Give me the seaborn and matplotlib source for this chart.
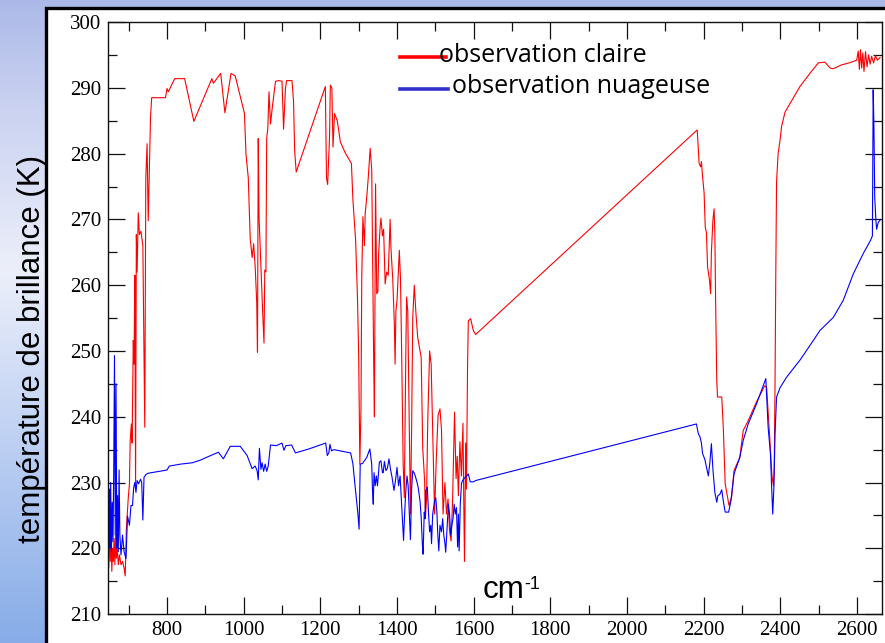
import matplotlib
matplotlib.use("Agg")
import numpy as np
import pandas as pd
import matplotlib.pyplot as plt
import matplotlib.patches as patches
from matplotlib.ticker import MultipleLocator
import seaborn as sns

# clear-sky observation (wavenumber cm-1, brightness temperature K)
clear_wn = [646, 648, 650, 652, 654, 656, 658, 660, 662, 664, 666, 668, 670, 673, 676, 680,
            684, 688, 691, 694, 699, 702, 704, 707, 709, 712, 714, 716, 718, 720, 722, 725,
            728, 732, 737, 739.5, 742, 744.7, 748, 751, 753.5, 757, 760, 796, 800, 803.5,
            820, 846, 870, 917, 921, 940, 951, 967, 978, 1002, 1006, 1012, 1017, 1022, 1026,
            1030, 1034, 1036, 1038, 1040, 1045, 1050, 1053, 1055, 1058, 1060, 1063, 1066,
            1070, 1075, 1083, 1092, 1100, 1104, 1109, 1112, 1126, 1130, 1133, 1137, 1213,
            1216, 1219, 1224, 1226, 1230, 1233, 1237, 1244, 1248, 1252, 1265, 1281, 1285,
            1292, 1297, 1300, 1303, 1306, 1308, 1311, 1315, 1317, 1321, 1325, 1330, 1334,
            1336, 1339, 1341, 1344, 1347, 1350, 1352, 1356, 1358, 1362, 1365, 1369, 1373,
            1377, 1382, 1384, 1389, 1393, 1395, 1397, 1400, 1406, 1409, 1412, 1416, 1419,
            1423, 1425, 1428, 1432, 1435, 1438, 1441, 1445, 1449, 1454, 1463, 1467, 1472,
            1474, 1477, 1480, 1485, 1489, 1493, 1498, 1502, 1507, 1512, 1516, 1520, 1525,
            1529, 1533, 1537, 1541, 1545, 1550, 1554, 1557, 1560, 1564, 1568, 1572, 1574,
            1576, 1579, 1581, 1584, 1586, 1592, 1599, 1605, 2183, 2188, 2192, 2194, 2197,
            2201, 2204, 2207, 2210, 2215, 2218, 2220, 2224, 2227, 2229, 2231, 2234, 2236,
            2247, 2251, 2256, 2266, 2273, 2279, 2294, 2303, 2316, 2338, 2359, 2364, 2372,
            2378, 2382, 2384, 2386, 2388, 2390, 2394, 2399, 2403, 2412, 2425, 2451, 2477,
            2499, 2516, 2530, 2538, 2560, 2580, 2599, 2603, 2606, 2609, 2612, 2615, 2618,
            2622, 2626, 2630, 2634, 2638, 2643, 2648, 2653, 2660]
clear_tb = [231.0, 217.0, 224.0, 218.0, 222.0, 216.5, 220.0, 218.0, 221.5, 217.5, 222.0, 218.5,
            220.0, 217.5, 219.0, 217.5, 218.0, 217.0, 215.8, 223.0, 227.7, 229.8, 236.4, 238.9,
            236.0, 251.6, 248.0, 261.5, 229.3, 267.7, 262.0, 271.0, 267.7, 268.2, 266.0, 252.5,
            238.4, 276.3, 281.5, 269.8, 276.3, 285.6, 288.5, 288.5, 289.9, 289.4, 291.4, 291.4,
            284.9, 291.4, 290.7, 292.2, 286.2, 292.2, 291.8, 286.1, 279.9, 276.3, 267.1, 264.2,
            266.3, 262.8, 257.4, 249.8, 282.3, 270.4, 262.8, 255.2, 251.2, 262.3, 262.0, 282.3,
            283.9, 289.4, 284.5, 287.2, 291.0, 291.1, 291.0, 283.7, 289.9, 291.1, 291.1, 288.0,
            280.4, 277.2, 290.2, 276.3, 275.3, 282.6, 290.4, 290.0, 281.0, 286.1, 285.0, 283.5,
            281.8, 280.1, 278.5, 272.9, 266.8, 257.7, 249.1, 232.8, 241.3, 261.2, 270.4, 266.0,
            270.9, 273.4, 276.4, 280.8, 277.5, 265.8, 249.1, 240.0, 275.4, 258.7, 259.0, 264.8,
            268.9, 270.2, 267.5, 268.5, 260.2, 262.0, 261.5, 270.0, 265.8, 260.7, 254.1, 248.0,
            256.0, 257.7, 265.3, 261.0, 250.0, 232.8, 227.7, 250.0, 258.2, 256.0, 238.0, 225.2,
            238.0, 255.1, 260.0, 256.0, 252.0, 249.0, 235.3, 230.2, 224.6, 227.5, 239.0, 250.0,
            248.0, 238.0, 225.2, 233.0, 240.2, 241.2, 238.0, 225.2, 230.0, 225.2, 227.5, 222.6,
            221.1, 227.5, 240.7, 230.6, 234.0, 228.0, 236.2, 231.0, 239.0, 227.5, 218.0, 236.0,
            229.0, 248.0, 254.6, 254.9, 253.1, 252.5, 283.6, 278.5, 278.0, 278.8, 276.5, 274.0,
            268.8, 268.0, 262.8, 260.8, 258.7, 265.0, 269.9, 271.6, 268.0, 257.7, 245.5, 243.0,
            243.0, 238.4, 229.8, 226.5, 227.9, 231.8, 233.8, 237.9, 239.4, 242.3, 244.7, 244.5,
            237.0, 231.0, 229.5, 232.5, 245.0, 262.0, 275.7, 280.0, 282.0, 284.1, 286.3, 287.6,
            290.2, 292.2, 293.8, 293.9, 293.0, 292.9, 293.5, 293.8, 294.2, 295.6, 292.8, 295.8,
            293.0, 295.3, 292.5, 295.5, 293.2, 295.0, 293.6, 294.8, 293.8, 294.9, 294.2, 294.6]

# cloudy observation
cloudy_wn = [646, 648, 650, 651, 653, 655, 657, 659, 661, 663, 665, 667, 669, 671, 673, 675,
             677, 680, 684, 688, 693, 697, 702, 706, 710, 713, 716, 719, 722, 726, 731, 734,
             737, 740, 745, 750, 770, 800, 806, 836, 866, 887, 910, 934, 947, 965, 991, 1009,
             1022, 1030, 1035, 1038, 1041, 1045, 1048, 1052, 1056, 1060, 1064, 1070, 1085,
             1100, 1105, 1110, 1125, 1135, 1170, 1214, 1218, 1222, 1225, 1229, 1235, 1279,
             1285, 1290, 1298, 1301, 1304, 1310, 1321, 1329, 1334, 1336, 1338, 1340, 1343,
             1346, 1349, 1354, 1358, 1362, 1364, 1367, 1371, 1375, 1379, 1383, 1387, 1392,
             1396, 1400, 1404, 1408, 1411, 1414, 1417, 1420, 1423, 1426, 1429, 1432, 1435,
             1438, 1441, 1446, 1451, 1455, 1460, 1463, 1466, 1468, 1471, 1473, 1475, 1479,
             1482, 1485, 1488, 1490, 1493, 1498, 1501, 1504, 1506, 1509, 1512, 1516, 1519,
             1522, 1525, 1527, 1530, 1534, 1537, 1540, 1543, 1546, 1549, 1552, 1555, 1558,
             1560, 1562, 1565, 1568, 1571, 1578, 1582, 1586, 1591, 1599, 1605, 2181, 2186,
             2190, 2194, 2197, 2203, 2212, 2216, 2220, 2224, 2229, 2234, 2237, 2242, 2247,
             2251, 2256, 2265, 2271, 2279, 2294, 2303, 2316, 2338, 2362, 2368, 2374, 2377,
             2380, 2383, 2386, 2390, 2399, 2416, 2451, 2486, 2503, 2538, 2564, 2590, 2616,
             2635, 2640, 2642, 2644, 2646, 2649, 2651, 2655, 2660]
cloudy_tb = [231.0, 222.0, 229.0, 220.0, 230.0, 219.5, 227.0, 221.0, 231.5, 249.3, 222.0, 245.0,
             220.0, 228.0, 219.5, 231.9, 222.0, 219.0, 222.0, 219.5, 218.4, 224.9, 223.5, 226.5,
             226.5, 229.2, 230.0, 228.5, 230.3, 229.8, 230.5, 230.0, 224.3, 230.8, 231.2, 231.4,
             231.6, 231.9, 232.5, 232.8, 233.0, 233.4, 234.0, 234.6, 233.6, 235.5, 235.5, 234.1,
             232.1, 232.5, 231.8, 230.4, 235.2, 232.0, 233.0, 231.7, 232.8, 231.7, 232.5, 235.7,
             235.6, 236.0, 234.9, 235.6, 235.7, 234.5, 235.1, 236.0, 234.1, 234.5, 235.8, 234.8,
             235.0, 234.5, 232.8, 229.8, 225.2, 222.9, 232.8, 232.9, 233.8, 235.1, 232.8, 228.8,
             226.7, 231.5, 229.5, 231.0, 229.5, 233.1, 233.3, 231.5, 231.5, 233.2, 231.8, 232.2,
             233.6, 232.0, 230.8, 228.8, 230.3, 232.3, 229.5, 231.0, 227.7, 224.7, 221.2, 225.5,
             228.8, 231.0, 229.5, 225.5, 221.3, 229.0, 231.8, 231.3, 230.3, 229.3, 227.2, 224.7,
             220.7, 219.1, 225.5, 224.5, 228.8, 229.3, 225.5, 222.5, 223.5, 220.7, 225.2, 227.2,
             227.7, 225.5, 222.5, 219.6, 223.5, 222.5, 224.5, 222.0, 220.7, 219.4, 222.5, 226.7,
             225.2, 222.0, 223.5, 224.5, 226.7, 225.2, 226.2, 220.2, 225.2, 219.6, 226.7, 229.8,
             230.3, 230.8, 231.0, 231.3, 230.1, 230.1, 230.3, 238.9, 237.4, 237.0, 236.0, 234.4,
             233.5, 231.0, 233.0, 235.9, 232.0, 228.5, 227.0, 228.0, 228.2, 228.9, 227.2, 225.5,
             225.5, 227.2, 231.3, 233.8, 236.4, 238.9, 242.0, 245.8, 238.4, 234.4, 229.5, 225.2,
             229.3, 237.4, 243.0, 244.4, 246.0, 248.6, 251.6, 253.1, 255.1, 257.7, 261.7, 264.8,
             266.8, 267.5, 289.7, 284.1, 273.4, 270.0, 268.5, 269.5, 269.9]

series_labels = ["observation claire", "observation nuageuse"]
series_colors = ["#ff0000", "#0000ff"]

df = pd.concat([
    pd.DataFrame({"wn": clear_wn, "tb": clear_tb, "obs": series_labels[0]}),
    pd.DataFrame({"wn": cloudy_wn, "tb": cloudy_tb, "obs": series_labels[1]}),
])

fig = plt.figure(figsize=(8.85, 6.43), dpi=100)

# slide background with white framed panel
bg = fig.add_axes([0, 0, 1, 1], zorder=-2)
bg.axis('off')
stops = np.array([[0.00, 172, 185, 232], [0.15, 200, 208, 240], [0.42, 236, 239, 250],
                  [0.60, 205, 218, 245], [1.00, 135, 172, 232]])
yy = np.linspace(0, 1, 256)
grad = np.stack([np.interp(yy, stops[:, 0], stops[:, c]) for c in (1, 2, 3)], axis=-1) / 255
bg.imshow(grad[:, None, :].repeat(4, axis=1), extent=[0, 1, 0, 1], aspect='auto', origin='upper')
bg.set_xlim(0, 1)
bg.set_ylim(0, 1)
bg.add_patch(patches.Rectangle((46 / 885, -0.05), 1.0, 1.05 - 8 / 643, transform=bg.transAxes,
                               facecolor='white', edgecolor='black', lw=2.4, clip_on=False))

ax = fig.add_axes([0.122, 0.045, 0.8746, 0.9207])
ax.set_facecolor('white')
sns.lineplot(data=df, x="wn", y="tb", hue="obs", palette=series_colors, estimator=None,
             sort=False, lw=0.8, legend=False, ax=ax)

ax.set_xlim(646, 2665)
ax.set_ylim(210, 300)
ax.xaxis.set_major_locator(MultipleLocator(200))
ax.xaxis.set_minor_locator(MultipleLocator(100))
ax.yaxis.set_major_locator(MultipleLocator(10))
ax.yaxis.set_minor_locator(MultipleLocator(5))
ax.tick_params(which='both', direction='in', top=True, right=True, width=0.9, color='#111111')
ax.tick_params(which='major', length=12, labelsize=15, labelfontfamily='Liberation Serif')
ax.tick_params(which='minor', length=6.5)
ax.tick_params(axis='x', pad=5)
ax.tick_params(axis='y', pad=5)
for s in ax.spines.values():
    s.set_linewidth(1.0)
    s.set_color('#111111')
ax.set_xlabel('')
ax.set_ylabel('')

fig.text(0.0356, 0.458, 'température de brillance (K)', rotation=90, ha='center', va='center',
         fontsize=22.5, family='Liberation Sans')
# axis unit "cm-1" written inside the plot
ax.text(0.4845, 0.027, 'cm', transform=ax.transAxes, ha='left', va='baseline',
        fontsize=22.5, family='Liberation Sans')
ax.text(0.5375, 0.043, '-1', transform=ax.transAxes, ha='left', va='baseline',
        fontsize=13, family='Liberation Sans')

# legend
ax.plot([0.3773, 0.4367], [0.9409, 0.9409], transform=ax.transAxes, color=series_colors[0], lw=2.6)
ax.plot([0.3773, 0.4393], [0.8873, 0.8873], transform=ax.transAxes, color='#3333cc', lw=2.6)
ax.text(0.4276, 0.9324, series_labels[0], transform=ax.transAxes, ha='left', va='baseline',
        fontsize=18, family='Open Sans')
ax.text(0.4444, 0.880, series_labels[1], transform=ax.transAxes, ha='left', va='baseline',
        fontsize=18, family='Open Sans')

fig.savefig('out.png', dpi=100)
